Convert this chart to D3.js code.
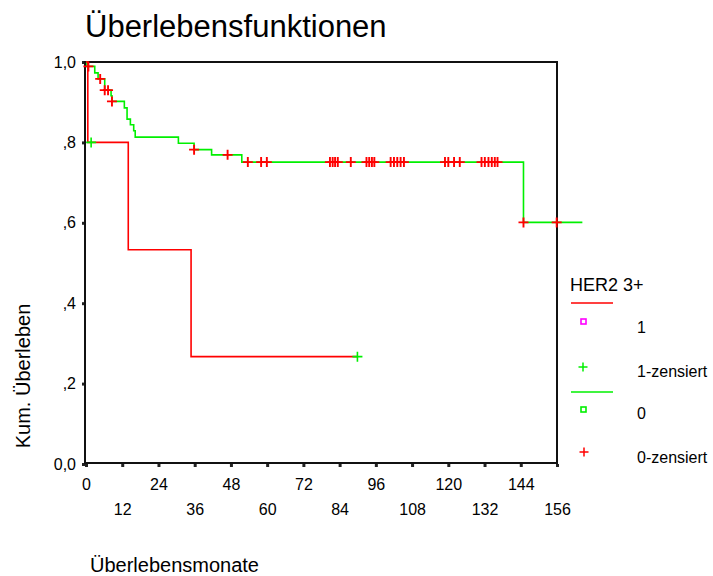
<!DOCTYPE html>
<html>
<head>
<meta charset="utf-8">
<script src="https://cdn.jsdelivr.net/npm/d3@7"></script>
<style>
  html, body { margin: 0; padding: 0; background: #fff; }
  svg text { font-family: "Liberation Sans", Arial, Helvetica, sans-serif; fill: #000; }
</style>
</head>
<body>
<svg id="chart" width="713" height="576"></svg>
<script>
// Kaplan-Meier estimates, HER2 3+ = 0 (green curve, red censor marks)
const g0StepMonths = [0.3, 2.9, 4.0, 6.2, 8.3, 8.6, 12.7, 13.6, 14.7, 15.8, 16.3, 30.6, 35.8, 41.6, 51.6, 144.9];
const g0StepSurv   = [0.989, 0.973, 0.958, 0.930, 0.916, 0.902, 0.886, 0.858, 0.844, 0.829, 0.813, 0.798, 0.782, 0.769, 0.751, 0.601];
const g0LastMonth  = 164.4;
const g0CensorMonths = [0.8, 4.7, 6.2, 7.3, 8.6, 35.8, 46.9, 53.6, 58.0, 59.9,
  80.8, 81.7, 82.5, 83.4, 87.7, 92.9, 93.8, 94.7, 95.5,
  100.9, 102.0, 103.1, 104.2, 105.3, 118.9, 120.0, 121.9, 123.8,
  131.0, 132.1, 133.3, 134.4, 135.4, 136.3, 144.9, 155.9];

// Kaplan-Meier estimates, HER2 3+ = 1 (red curve, green censor marks)
const g1StepMonths = [0.6, 14.0, 34.8];
const g1StepSurv   = [0.8, 0.533, 0.267];
const g1LastMonth  = 89.9;
const g1CensorMonths = [1.7, 89.9];

// Axis ticks and labels
const xTicks = [0, 12, 24, 36, 48, 60, 72, 84, 96, 108, 120, 132, 144, 156];
const yTicks = [0, 0.2, 0.4, 0.6, 0.8, 1.0];
const yTickLabels = ["0,0", ",2", ",4", ",6", ",8", "1,0"];

// Legend entries
const legendTitle = "HER2 3+";
const legendLabels = ["1", "1-zensiert", "0", "0-zensiert"];

const RED = "#ff0000", GREEN = "#00f000", MAGENTA = "#ff00ff";

const svg = d3.select("#chart");
const box = { left: 85, right: 557, top: 62, bottom: 463 };

const x = d3.scaleLinear().domain([0, 156]).range([86, 557]);
const y = d3.scaleLinear().domain([0, 1]).range([464, 62]);

// Title
svg.append("text")
  .attr("x", 85).attr("y", 37)
  .style("font-size", "31px")
  .text("Überlebensfunktionen");

// Axis titles
svg.append("text")
  .attr("transform", "translate(29.5,376) rotate(-90)")
  .attr("text-anchor", "middle")
  .style("font-size", "20px")
  .text("Kum. Überleben");

svg.append("text")
  .attr("x", 90).attr("y", 572)
  .style("font-size", "20px")
  .text("Überlebensmonate");

// Y axis: short thick ticks render as small squares
const yAxis = d3.axisLeft(y)
  .tickValues(yTicks)
  .tickSize(3)
  .tickPadding(6)
  .tickFormat((d, i) => yTickLabels[i]);
const gy = svg.append("g").attr("transform", `translate(${box.left},0)`).call(yAxis);
gy.select(".domain").remove();
gy.selectAll(".tick line").attr("stroke", "#222").attr("stroke-width", 3);
gy.selectAll(".tick text").style("font-size", "16px").style("font-family", "Liberation Sans, Arial, sans-serif");

// X axis: labels alternate between two rows
const xAxis = d3.axisBottom(x)
  .tickValues(xTicks)
  .tickSize(3)
  .tickPadding(10)
  .tickFormat(d => String(d));
const gx = svg.append("g").attr("transform", `translate(0,${box.bottom + 1})`).call(xAxis);
gx.select(".domain").remove();
gx.selectAll(".tick line").attr("stroke", "#222").attr("stroke-width", 3);
gx.selectAll(".tick text")
  .style("font-size", "16px")
  .style("font-family", "Liberation Sans, Arial, sans-serif")
  .attr("y", (d, i) => i % 2 === 0 ? 15 : 40);

// Plot frame
svg.append("rect")
  .attr("x", box.left).attr("y", box.top)
  .attr("width", box.right - box.left).attr("height", box.bottom - box.top)
  .attr("fill", "none").attr("stroke", "#111").attr("stroke-width", 2);

// Survival step curves
function stepPoints(months, surv, last) {
  const pts = [[0, 1]];
  months.forEach((m, i) => pts.push([m, surv[i]]));
  pts.push([last, surv[surv.length - 1]]);
  return pts;
}
function survAt(months, surv, t) {
  let s = 1;
  months.forEach((m, i) => { if (m <= t) s = surv[i]; });
  return s;
}
const line = d3.line().x(d => x(d[0])).y(d => y(d[1])).curve(d3.curveStepAfter);

const curves = svg.append("g").attr("fill", "none").attr("stroke-width", 1.6);
curves.append("path")
  .datum(stepPoints(g0StepMonths, g0StepSurv, g0LastMonth))
  .attr("stroke", GREEN).attr("d", line);
curves.append("path")
  .datum(stepPoints(g1StepMonths, g1StepSurv, g1LastMonth))
  .attr("stroke", RED).attr("d", line);

// Censor marks
function plusPath(cx, cy, r) {
  return `M${cx - r},${cy}H${cx + r}M${cx},${cy - r}V${cy + r}`;
}
svg.append("g").selectAll("path")
  .data(g0CensorMonths)
  .join("path")
  .attr("d", t => plusPath(x(t), y(survAt(g0StepMonths, g0StepSurv, t)), 5))
  .attr("stroke", RED).attr("stroke-width", 1.9).attr("fill", "none");
svg.append("g").selectAll("path")
  .data(g1CensorMonths)
  .join("path")
  .attr("d", t => plusPath(x(t), y(survAt(g1StepMonths, g1StepSurv, t)), 5))
  .attr("stroke", GREEN).attr("stroke-width", 1.6).attr("fill", "none");

// Legend
const lg = svg.append("g");
lg.append("text").attr("x", 570).attr("y", 291).style("font-size", "18px").text(legendTitle);
lg.append("line").attr("x1", 571).attr("x2", 613).attr("y1", 303).attr("y2", 303)
  .attr("stroke", RED).attr("stroke-width", 1.6);
lg.append("rect").attr("x", 581).attr("y", 319).attr("width", 5).attr("height", 5)
  .attr("fill", "none").attr("stroke", MAGENTA).attr("stroke-width", 1.6);
lg.append("path").attr("d", plusPath(583, 367, 4.5)).attr("stroke", GREEN).attr("stroke-width", 1.5);
lg.append("line").attr("x1", 571).attr("x2", 613).attr("y1", 392).attr("y2", 392)
  .attr("stroke", GREEN).attr("stroke-width", 1.6);
lg.append("rect").attr("x", 581).attr("y", 407).attr("width", 5).attr("height", 5)
  .attr("fill", "none").attr("stroke", GREEN).attr("stroke-width", 1.6);
lg.append("path").attr("d", plusPath(584, 452, 4.5)).attr("stroke", RED).attr("stroke-width", 1.5);

const legendY = [327, 371, 413, 457];
lg.selectAll("text.item")
  .data(legendLabels)
  .join("text")
  .attr("class", "item")
  .attr("x", 637)
  .attr("y", (d, i) => legendY[i])
  .attr("dy", "0.35em")
  .style("font-size", "16px")
  .text(d => d);
</script>
</body>
</html>
